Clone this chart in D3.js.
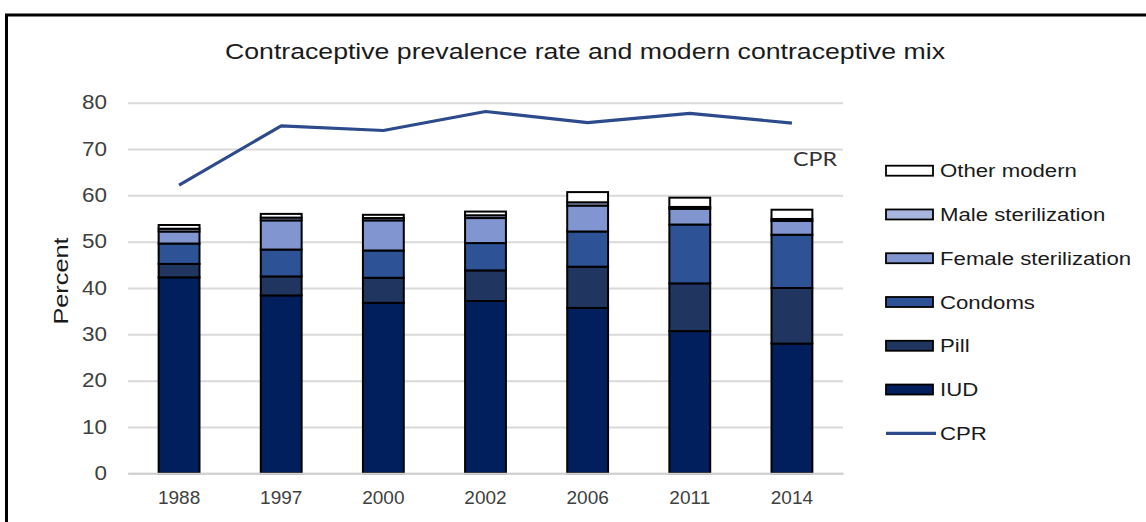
<!DOCTYPE html>
<html>
<head>
<meta charset="utf-8">
<script src="https://cdn.jsdelivr.net/npm/d3@7"></script>
<style>
  body { margin: 0; background: #fff; }
  text { font-family: "Liberation Sans", Arial, sans-serif; }
</style>
</head>
<body>
<script>
// values (percent)
let years = ["1988", "1997", "2000", "2002", "2006", "2011", "2014"];
let iud = [42.3, 38.4, 36.8, 37.2, 35.7, 30.7, 28.0];
let pill = [2.9, 4.1, 5.4, 6.6, 8.9, 10.3, 12.0];
let condoms = [4.4, 5.8, 5.9, 5.9, 7.6, 12.7, 11.5];
let femaleSter = [2.6, 6.3, 6.5, 5.4, 5.6, 3.4, 3.0];
let maleSter = [0.6, 0.6, 0.5, 0.6, 0.7, 0.4, 0.4];
let otherModern = [0.8, 0.8, 0.7, 0.8, 2.2, 2.0, 2.0];
let cpr = [62.2, 75.0, 74.0, 78.1, 75.7, 77.7, 75.6];
let yTicks = [0, 10, 20, 30, 40, 50, 60, 70, 80];

let keys = ["IUD", "Pill", "Condoms", "Female sterilization", "Male sterilization", "Other modern"];
let colors = {
    "IUD": "#011f5c",
    "Pill": "#203661",
    "Condoms": "#2d5296",
    "Female sterilization": "#8196d1",
    "Male sterilization": "#a9b6e0",
    "Other modern": "#ffffff"
}

let width = 1146, height = 522;
let plot = { left: 128, right: 843, top: 102.7, bottom: 473.3 };

let data = years.map(function (y, i) {
    return {
        year: y,
        "IUD": iud[i],
        "Pill": pill[i],
        "Condoms": condoms[i],
        "Female sterilization": femaleSter[i],
        "Male sterilization": maleSter[i],
        "Other modern": otherModern[i],
        cpr: cpr[i]
    }
})

let svg = d3.select("body").append("svg")
    .attr("width", width)
    .attr("height", height)

// outer frame, cut off at right and bottom like the picture
svg.append("rect")
    .attr("x", 6.5).attr("y", 15)
    .attr("width", width + 20).attr("height", height + 20)
    .attr("fill", "none").attr("stroke", "#000").attr("stroke-width", 3)

let x = d3.scaleBand()
    .domain(years)
    .range([plot.left, plot.right])
    .paddingInner(0.6)
    .paddingOuter(0.3)

let y = d3.scaleLinear()
    .domain([0, 80])
    .range([plot.bottom, plot.top])

// grid + y labels
let yAxis = svg.append("g")
    .attr("transform", "translate(" + plot.left + ",0)")
    .call(d3.axisLeft(y).tickValues(yTicks).tickSize(-(plot.right - plot.left)).tickPadding(21))
yAxis.select(".domain").remove()
yAxis.selectAll(".tick line").attr("stroke", "#d9d9d9").attr("stroke-width", 2)
yAxis.selectAll(".tick text")
    .attr("font-size", 19.5).attr("fill", "#404040")
    .style("font-family", "Liberation Sans, Arial, sans-serif")
    .attr("textLength", function (d) { return String(d).length * 12.5 })
    .attr("lengthAdjust", "spacingAndGlyphs")

let stack = d3.stack().keys(keys)

svg.append("g").selectAll("g")
    .data(stack(data))
    .enter().append("g")
    .attr("fill", function (d) { return colors[d.key] })
    .selectAll("rect")
    .data(function (d) { return d })
    .enter().append("rect")
    .attr("x", function (d) { return x(d.data.year) })
    .attr("width", x.bandwidth())
    .attr("y", function (d) { return y(d[1]) })
    .attr("height", function (d) { return y(d[0]) - y(d[1]) })
    .attr("stroke", "#000")
    .attr("stroke-width", 2)

// x axis
let xAxis = svg.append("g")
    .attr("transform", "translate(0," + plot.bottom + ")")
    .call(d3.axisBottom(x).tickSize(0).tickPadding(17))
xAxis.select(".domain").attr("stroke", "#d0d0d0").attr("stroke-width", 2)
xAxis.selectAll(".tick text")
    .attr("font-size", 19).attr("fill", "#404040")
    .style("font-family", "Liberation Sans, Arial, sans-serif")

// CPR line
let line = d3.line()
    .x(function (d) { return x(d.year) + x.bandwidth() / 2 })
    .y(function (d) { return y(d.cpr) })

svg.append("path")
    .datum(data)
    .attr("d", line)
    .attr("fill", "none")
    .attr("stroke", "#2c4a8c")
    .attr("stroke-width", 3.2)
    .attr("stroke-linejoin", "round")

svg.append("text")
    .attr("x", 793).attr("y", 166)
    .attr("font-size", 20).attr("fill", "#333")
    .style("font-family", "Lato, sans-serif")
    .attr("textLength", 44)
    .attr("lengthAdjust", "spacingAndGlyphs")
    .text("CPR")

// title
svg.append("text")
    .attr("x", 585).attr("y", 59)
    .attr("text-anchor", "middle")
    .attr("font-size", 22).attr("fill", "#1a1a1a")
    .attr("textLength", 720)
    .attr("lengthAdjust", "spacingAndGlyphs")
    .text("Contraceptive prevalence rate and modern contraceptive mix")

// y title
svg.append("text")
    .attr("transform", "translate(68,281) rotate(-90)")
    .attr("text-anchor", "middle")
    .attr("font-size", 20).attr("fill", "#1a1a1a")
    .attr("textLength", 87)
    .attr("lengthAdjust", "spacingAndGlyphs")
    .text("Percent")

// legend
let legendItems = keys.slice().reverse().concat(["CPR"])
let legendY = d3.scalePoint()
    .domain(legendItems)
    .range([170.7, 433.3])

let legend = svg.append("g").selectAll("g")
    .data(legendItems)
    .enter().append("g")
    .attr("transform", function (d) { return "translate(886," + legendY(d) + ")" })

legend.filter(function (d) { return d !== "CPR" })
    .append("rect")
    .attr("x", 0).attr("y", -5)
    .attr("width", 47).attr("height", 10)
    .attr("fill", function (d) { return colors[d] })
    .attr("stroke", "#000").attr("stroke-width", 1.8)

legend.filter(function (d) { return d === "CPR" })
    .append("line")
    .attr("x1", 0).attr("x2", 50)
    .attr("stroke", "#2c4a8c").attr("stroke-width", 3.2)

legend.append("text")
    .attr("transform", "translate(54,6.5) scale(1.2,1)")
    .attr("font-size", 18.5).attr("fill", "#1a1a1a")
    .text(function (d) { return d })
</script>
</body>
</html>
